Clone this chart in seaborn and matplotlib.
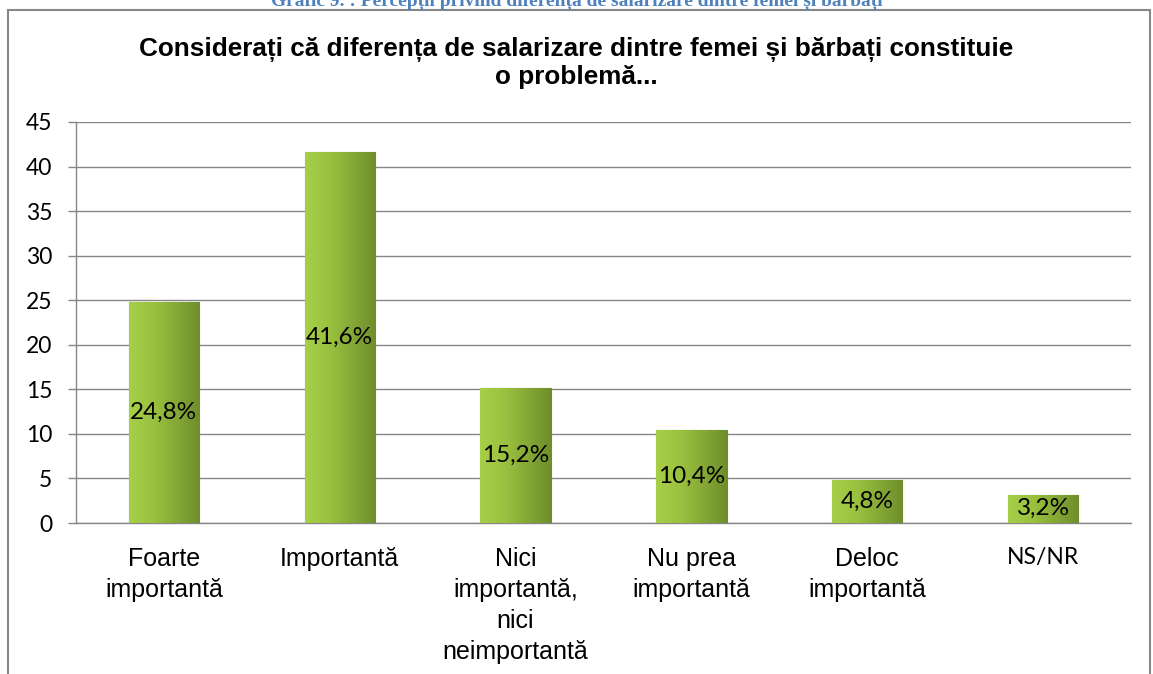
import numpy as np
import pandas as pd
import matplotlib
matplotlib.use("Agg")
import matplotlib.pyplot as plt
import seaborn as sns
from matplotlib.patches import Rectangle

categories = ["Foarte\nimportantă", "Importantă", "Nici\nimportantă,\nnici\nneimportantă",
              "Nu prea\nimportantă", "Deloc\nimportantă", "NS/NR"]
values = [24.8, 41.6, 15.2, 10.4, 4.8, 3.2]
labels = ["24,8%", "41,6%", "15,2%", "10,4%", "4,8%", "3,2%"]
yticks = [0, 5, 10, 15, 20, 25, 30, 35, 40, 45]

title = "Considerați că diferența de salarizare dintre femei și bărbați constituie\no problemă..."
caption = "Grafic 9. : Percepții privind diferența de salarizare dintre femei și bărbați"

df = pd.DataFrame({"cat": categories, "val": values})

sns.set_style("white")
plt.rcParams["font.family"] = ["Liberation Sans", "DejaVu Sans"]
plt.rcParams["text.color"] = "black"
plt.rcParams["xtick.labelcolor"] = "black"
plt.rcParams["ytick.labelcolor"] = "black"

fig = plt.figure(figsize=(11.53, 6.74), dpi=100)
ax = fig.add_axes([0.0659, 0.224, 0.915, 0.595])

sns.barplot(data=df, x="cat", y="val", color="#8cb33a", width=0.4, ax=ax,
            saturation=1, edgecolor="#6f8c2c", linewidth=0.8, zorder=3)

# gradient fill for bars
grad = np.linspace(0, 1, 64).reshape(1, -1)
cmap = matplotlib.colors.LinearSegmentedColormap.from_list(
    "g", ["#a6cf48", "#9bc23f", "#86a937", "#6f8e2c"])
for p in ax.patches:
    x0, y0 = p.get_x(), p.get_y()
    w, h = p.get_width(), p.get_height()
    im = ax.imshow(grad, extent=[x0, x0 + w, y0, y0 + h], aspect="auto",
                   cmap=cmap, zorder=3.5)
    im.set_clip_path(p)

for i, (v, lab) in enumerate(zip(values, labels)):
    ax.text(i, v / 2, lab, ha="center", va="center", fontsize=17.5,
            family=["Lato", "DejaVu Sans"], color="black", zorder=5)

ax.set_xlim(-0.5, 5.5)
ax.set_ylim(0, 45)
ax.set_yticks(yticks)
ax.set_yticklabels([str(t) for t in yticks], fontsize=16.5,
                   family=["Lato", "DejaVu Sans"])
ax.yaxis.grid(True, color="#868686", linewidth=1)
ax.set_axisbelow(True)
ax.set_xlabel("")
ax.set_ylabel("")

ax.set_xticks(np.arange(6))
ax.set_xticklabels(categories, fontsize=18, linespacing=1.38)
for t in ax.get_xticklabels():
    if t.get_text() == "NS/NR":
        t.set_family(["Lato", "DejaVu Sans"])
        t.set_fontsize(16.5)
ax.tick_params(axis="x", length=0, pad=17)
ax.set_xticks(np.arange(-0.5, 6.0, 1), minor=True)
ax.tick_params(axis="x", which="minor", length=6, color="#868686", width=1)
ax.tick_params(axis="y", length=6, color="#868686", width=1, left=True, pad=11)

for s in ["top", "right"]:
    ax.spines[s].set_visible(False)
for s in ["left", "bottom"]:
    ax.spines[s].set_color("#868686")
    ax.spines[s].set_linewidth(1)

fig.text(0.5, 0.907, title, ha="center", va="center", fontsize=18.8,
         fontweight="bold", linespacing=1.15)

# outer chart frame
fig.patches.append(Rectangle((8 / 1153, -0.1), 1142 / 1153, 1.1 - 10 / 674,
                             transform=fig.transFigure, fill=False,
                             edgecolor="#868686", linewidth=1.5))

fig.text(0.5, 1 - 5 / 674, caption, ha="center", va="baseline", fontsize=14,
         fontweight="bold", color="#4f81bd", family=["Liberation Serif"])

fig.savefig("out.png", dpi=100)
